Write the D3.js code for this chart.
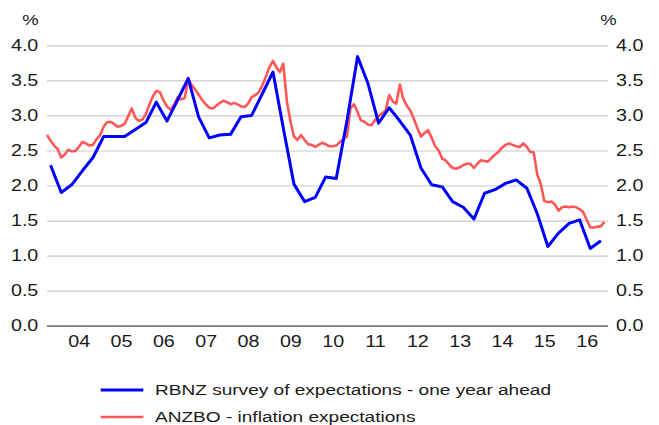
<!DOCTYPE html>
<html>
<head>
<meta charset="utf-8">
<script src="https://cdn.jsdelivr.net/npm/d3@7"></script>
<style>
body{margin:0;background:#fff;}
text{font-family:"Liberation Sans",Arial,sans-serif;fill:#1a1a1a;}
</style>
</head>
<body>
<script>

// y tick values and x year labels
var yTicks = [0, 0.5, 1, 1.5, 2, 2.5, 3, 3.5, 4];
var xYears = [2004,2005,2006,2007,2008,2009,2010,2011,2012,2013,2014,2015,2016];

// RBNZ survey, quarterly, first point Nov 2003
var rbnzStart = new Date(2003,10,1);
var rbnz = [2.29,1.90,2.01,2.21,2.40,2.70,2.70,2.70,2.80,2.90,
            3.19,2.92,3.22,3.53,2.98,2.68,2.72,2.73,2.98,3.00,
            3.31,3.62,2.82,2.02,1.77,1.83,2.12,2.10,2.92,3.84,
            3.46,2.89,3.11,2.92,2.72,2.25,2.01,1.98,1.77,1.69,
            1.52,1.89,1.94,2.03,2.08,1.96,1.60,1.13,1.32,1.46,
            1.51,1.10,1.21];

// ANZBO, monthly, first point Oct 2003
var anzboStart = new Date(2003,9,1);
var anzbo = [2.72,2.64,2.57,2.52,2.40,2.44,2.51,2.49,2.49,2.55,
             2.62,2.60,2.57,2.58,2.66,2.72,2.84,2.90,2.91,2.88,
             2.84,2.85,2.88,2.99,3.10,2.97,2.92,2.94,3.02,3.15,
             3.27,3.35,3.33,3.22,3.13,3.08,3.15,3.26,3.23,3.25,
             3.51,3.44,3.37,3.30,3.22,3.16,3.11,3.10,3.14,3.18,
             3.21,3.19,3.16,3.18,3.16,3.13,3.12,3.17,3.26,3.29,
             3.33,3.43,3.55,3.69,3.78,3.69,3.62,3.74,3.20,2.92,
             2.70,2.65,2.72,2.65,2.59,2.58,2.55,2.58,2.61,2.59,
             2.56,2.56,2.57,2.62,2.66,2.70,3.10,3.16,3.05,2.93,
             2.91,2.87,2.86,2.93,2.99,3.03,3.07,3.29,3.20,3.17,
             3.44,3.24,3.14,3.07,2.95,2.82,2.70,2.75,2.79,2.68,
             2.56,2.50,2.38,2.36,2.30,2.25,2.24,2.26,2.29,2.31,
             2.31,2.25,2.31,2.36,2.35,2.34,2.39,2.44,2.48,2.54,
             2.58,2.60,2.58,2.56,2.55,2.60,2.55,2.48,2.47,2.16,
             2.02,1.78,1.76,1.77,1.73,1.64,1.69,1.70,1.69,1.70,
             1.69,1.66,1.62,1.51,1.40,1.40,1.41,1.42,1.48];

var names = ["RBNZ survey of expectations - one year ahead", "ANZBO - inflation expectations"];
var colors = ["#0000ff", "#ff5757"];

var sx = 1.23; // text in the picture is a bit wide

var svg = d3.select('body').append('svg')
    .attr('width',659)
    .attr('height',425);

var x = d3.scaleTime()
    .domain([new Date(2003,9,1), new Date(2017,0,1)])
    .range([47,608]);

var y = d3.scaleLinear()
    .domain([0,4])
    .range([325.6,45.4]);

// gridlines
svg.append('g')
    .attr('transform','translate(47,0)')
    .call(d3.axisLeft(y).tickValues(yTicks).tickSize(-561).tickFormat(''))
    .call(function(g){ g.select('.domain').remove(); })
    .selectAll('line')
    .attr('stroke', function(d){ return d===0 ? '#7a7a7a' : '#cacaca'; })
    .attr('stroke-width', function(d){ return d===0 ? 1.8 : 1.2; });

// left labels
svg.append('g')
    .attr('transform','translate(47,0)')
    .call(d3.axisLeft(y).tickValues(yTicks).tickSize(0).tickFormat(d3.format('.1f')))
    .call(function(g){ g.select('.domain').remove(); })
    .attr('font-size',16)
    .attr('font-family',null)
    .selectAll('text')
    .attr('x',0)
    .attr('dy','0.33em')
    .attr('transform','translate(-8.7,0) scale('+sx+',1)');

// right labels
svg.append('g')
    .attr('transform','translate(608,0)')
    .call(d3.axisRight(y).tickValues(yTicks).tickSize(0).tickFormat(d3.format('.1f')))
    .call(function(g){ g.select('.domain').remove(); })
    .attr('font-size',16)
    .attr('font-family',null)
    .selectAll('text')
    .attr('x',0)
    .attr('dy','0.33em')
    .attr('transform','translate(8,0) scale('+sx+',1)');

// x labels at mid year
svg.append('g')
    .attr('transform','translate(0,325.6)')
    .call(d3.axisBottom(x)
        .tickValues(xYears.map(function(yr){ return new Date(yr,6,1); }))
        .tickSize(0)
        .tickFormat(d3.timeFormat('%y')))
    .call(function(g){ g.select('.domain').remove(); })
    .attr('font-size',16)
    .attr('font-family',null)
    .selectAll('text')
    .attr('y',0)
    .attr('dy',0)
    .attr('transform','translate(0,20.9) scale('+sx+',1)');

// % units
svg.append('text')
    .attr('transform','translate(30.5,25) scale('+sx+',1)')
    .attr('text-anchor','middle')
    .attr('font-size',15)
    .text('%');

svg.append('text')
    .attr('transform','translate(608.5,25) scale('+sx+',1)')
    .attr('text-anchor','middle')
    .attr('font-size',15)
    .text('%');

// series
var rbnzData = rbnz.map(function(v,i){ return {date: d3.timeMonth.offset(rbnzStart, i*3), v: v}; });
var anzboData = anzbo.map(function(v,i){ return {date: d3.timeMonth.offset(anzboStart, i), v: v}; });

var line = d3.line()
    .x(function(d){ return x(d.date); })
    .y(function(d){ return y(d.v); });

svg.append('path')
    .datum(anzboData)
    .attr('d', line)
    .attr('fill','none')
    .attr('stroke', colors[1])
    .attr('stroke-width', 2.6)
    .attr('stroke-linejoin','round');

svg.append('path')
    .datum(rbnzData)
    .attr('d', line)
    .attr('fill','none')
    .attr('stroke', colors[0])
    .attr('stroke-width', 3)
    .attr('stroke-linejoin','round');

// legend
var legend = svg.selectAll('.leg')
    .data(names)
    .enter().append('g')
    .attr('class','leg')
    .attr('transform', function(d,i){ return 'translate(0,' + (390 + i*27) + ')'; });

legend.append('line')
    .attr('x1',100.7)
    .attr('x2',143.3)
    .attr('y1',0)
    .attr('y2',0)
    .attr('stroke', function(d,i){ return colors[i]; })
    .attr('stroke-width', function(d,i){ return i===0 ? 3 : 2.6; });

legend.append('text')
    .attr('transform','translate(155,4.5) scale('+sx+',1)')
    .attr('font-size',15.5)
    .text(function(d){ return d; });

</script>
</body>
</html>
